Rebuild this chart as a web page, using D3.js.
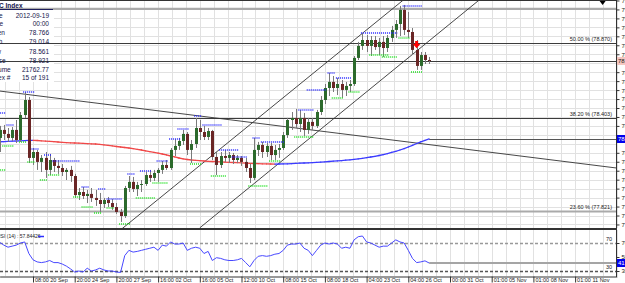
<!DOCTYPE html>
<html>
<head>
<meta charset="utf-8">
<script src="https://cdn.jsdelivr.net/npm/d3@7"></script>
<style>
body { margin: 0; background: #fff; overflow: hidden; }
svg { display: block; font-family: "Liberation Sans", Arial, sans-serif; }
</style>
</head>
<body>
<script>
// bars visible on screen, bar 0 = leftmost one
var open = [78.278,78.328,78.303,78.278,78.328,78.265,78.421,78.515,78.153,78.190,
  78.128,78.153,78.078,78.140,78.103,78.090,78.065,78.078,78.040,77.921,
  77.940,77.915,77.928,77.903,77.890,77.865,77.890,77.871,77.846,77.815,
  77.790,77.965,78.003,77.959,77.984,77.990,78.046,78.028,78.059,78.078,
  78.109,78.090,78.203,78.228,78.259,78.303,78.203,78.240,78.340,78.315,
  78.284,78.321,78.159,78.109,78.165,78.153,78.171,78.140,78.153,78.128,
  78.090,78.028,78.203,78.234,78.190,78.228,78.171,78.203,78.215,78.296,
  78.390,78.403,78.365,78.403,78.328,78.378,78.353,78.440,78.515,78.590,
  78.628,78.590,78.615,78.578,78.603,78.615,78.778,78.853,78.890,78.853,
  78.890,78.846,78.878,78.840,78.903,78.953,78.990,79.078,78.953,78.940,
  78.828,78.728,78.796,78.765];
var high = [78.353,78.359,78.340,78.346,78.390,78.440,78.565,78.534,78.215,78.203,
  78.171,78.190,78.178,78.153,78.140,78.115,78.090,78.103,78.053,77.965,
  77.971,77.953,77.965,77.953,77.934,77.903,77.909,77.896,77.871,77.834,
  77.978,78.040,78.034,78.003,78.015,78.065,78.078,78.078,78.090,78.134,
  78.140,78.215,78.271,78.278,78.328,78.315,78.265,78.403,78.390,78.353,
  78.340,78.328,78.190,78.190,78.203,78.190,78.184,78.171,78.165,78.153,
  78.115,78.278,78.253,78.253,78.246,78.246,78.234,78.240,78.315,78.403,
  78.440,78.459,78.453,78.434,78.403,78.403,78.453,78.540,78.615,78.684,
  78.665,78.653,78.640,78.628,78.640,78.790,78.878,78.934,78.921,78.915,
  78.915,78.903,78.915,78.921,78.978,79.015,79.103,79.109,79.065,78.965,
  78.890,78.815,78.815,78.784];
var low = [78.190,78.265,78.253,78.259,78.246,78.253,78.403,78.121,78.109,78.078,
  78.065,78.028,78.046,78.065,78.053,78.040,78.015,78.003,77.903,77.890,
  77.896,77.871,77.878,77.853,77.815,77.840,77.846,77.828,77.803,77.753,
  77.778,77.940,77.940,77.915,77.940,77.978,78.003,78.009,78.003,78.053,
  78.078,78.078,78.165,78.203,78.234,78.171,78.121,78.215,78.265,78.265,
  78.265,78.140,78.046,78.090,78.128,78.121,78.115,78.121,78.103,78.065,
  77.996,78.015,78.165,78.153,78.159,78.140,78.140,78.153,78.203,78.278,
  78.328,78.340,78.315,78.290,78.303,78.328,78.340,78.421,78.490,78.540,
  78.565,78.546,78.528,78.540,78.565,78.603,78.765,78.828,78.815,78.790,
  78.828,78.796,78.784,78.815,78.878,78.903,78.915,78.921,78.903,78.796,
  78.703,78.703,78.740,78.740];
var close = [78.328,78.303,78.278,78.328,78.265,78.421,78.515,78.153,78.190,78.128,
  78.153,78.078,78.140,78.103,78.090,78.065,78.078,78.040,77.921,77.940,
  77.915,77.928,77.903,77.890,77.865,77.890,77.871,77.846,77.815,77.790,
  77.965,78.003,77.959,77.984,77.990,78.046,78.028,78.059,78.078,78.109,
  78.090,78.203,78.228,78.259,78.303,78.203,78.240,78.340,78.315,78.284,
  78.321,78.159,78.109,78.165,78.153,78.171,78.140,78.153,78.128,78.090,
  78.028,78.203,78.234,78.190,78.228,78.171,78.203,78.215,78.296,78.390,
  78.403,78.365,78.403,78.328,78.378,78.353,78.440,78.515,78.590,78.628,
  78.590,78.615,78.578,78.603,78.615,78.778,78.853,78.890,78.853,78.890,
  78.846,78.878,78.840,78.903,78.953,78.990,79.078,78.953,78.940,78.828,
  78.728,78.796,78.765,78.759];
var ma = [78.2538,78.2550,78.2563,78.2575,78.2588,78.2600,78.2613,78.2625,78.2631,78.2619,
  78.2600,78.2581,78.2563,78.2544,78.2525,78.2506,78.2488,78.2475,78.2463,78.2450,
  78.2438,78.2425,78.2413,78.2400,78.2381,78.2350,78.2319,78.2281,78.2244,78.2213,
  78.2181,78.2150,78.2113,78.2069,78.2025,78.1975,78.1925,78.1875,78.1825,78.1775,
  78.1713,78.1650,78.1588,78.1525,78.1475,78.1431,78.1400,78.1375,78.1356,78.1338,
  78.1319,78.1306,78.1294,78.1281,78.1269,78.1256,78.1244,78.1231,78.1219,78.1206,
  78.1194,78.1181,78.1169,78.1163,78.1156,78.1150,78.1144,78.1150,78.1156,78.1163,
  78.1175,78.1188,78.1200,78.1213,78.1225,78.1238,78.1250,78.1269,78.1288,78.1306,
  78.1325,78.1344,78.1363,78.1388,78.1413,78.1444,78.1475,78.1506,78.1544,78.1588,
  78.1631,78.1681,78.1738,78.1800,78.1869,78.1944,78.2025,78.2113,78.2213,78.2319,
  78.2431,78.2538,78.2631,78.2713];
var rsi = [71,67,64,65.5,67,70,71.5,55,46,43,
  42,43,45,42,42,40,37,33,28.5,30,
  28.5,34,30,31.5,34,31.5,30,30,28.5,28,
  52,59.5,57,58,59.5,61,62.5,64,59.5,67,
  65.5,71.5,68.5,68.5,70,59.5,62.5,64,62.5,55,
  58,45,49,48,46,45,45,46,48,42,
  36,45,51,52,51,52,54,55,59.5,67,
  68.5,68.5,70,62.5,59.5,52,59.5,67,70,68.5,
  70,68.5,62.5,64,62.5,74.5,79,80,71.5,70,
  67,64,65.5,65.5,70,74.5,71.5,70,59.5,48,
  42,43,44.5,41.4];

var timeIdx = [8,18,28,38,48,58,68,78,88,98,108,118,128,138];
var timeLabels = ['08:00 20 Sep','20:00 24 Sep','20:00 27 Sep','16:00 02 Oct','16:00 05 Oct',
  '12:00 10 Oct','08:00 15 Oct','08:00 18 Oct','04:00 23 Oct','04:00 26 Oct',
  '00:00 31 Oct','01:00 05 Nov','01:00 08 Nov','01:00 11 Nov'];
var priceTicks = [79.137,79.081,79.025,78.969,78.913,78.857,78.801,78.745,78.689,78.633,
  78.577,78.521,78.465,78.409,78.353,78.297,78.241,78.185,78.129,78.073,
  78.017,77.961,77.905,77.849,77.793,77.737];
var rsiTicks = [70,50,30];
var rsiLevels = [70,30];

var fibPct = [50.0, 38.2, 23.6];
var fibPrice = [78.870, 78.403, 77.821];
var topLinePrice = 79.084;
var bidPrice = 78.759;
// [bar, price, bar, price], drawn as rays
var trendLines = [[0,78.571,147,78.093],[29,77.703,97,79.144],[48,77.716,115,79.140]];
// fractal levels [fromBar, toBar, price]
var resLevels = [[0,1,78.434],[2,3,78.359],[6,8,78.565],[8,9,78.209],[11,12,78.171],[13,19,78.134],
  [20,21,77.971],[24,25,77.959],[26,29,77.896],[31,32,78.053],[34,36,78.071],[38,40,78.134],
  [41,43,78.271],[43,45,78.334],[47,48,78.415],[49,53,78.359],[53,57,78.203],[56,59,78.159],
  [61,62,78.278],[63,68,78.253],[72,75,78.453],[74,78,78.578],[79,80,78.684],[81,84,78.653],
  [87,95,78.934],[97,101,79.103]];
var supLevels = [[0,1,78.078],[1,3,78.228],[5,6,78.253],[7,8,78.128],[10,11,78.015],[12,14,78.046],
  [18,19,77.909],[20,22,77.846],[23,24,77.809],[26,27,77.840],[29,31,77.740],[33,37,77.903],
  [37,40,77.996],[46,48,78.115],[51,54,78.040],[60,64,77.978],[65,67,78.134],[71,75,78.284],
  [80,82,78.528],[84,86,78.565],[89,93,78.796],[92,95,78.784],[96,98,78.903],[99,101,78.690]];
var signalBar = 100, signalPrice = 78.859;
var infoLabels = ['Date','Time','Open','High','Low','Close','Volume','Index #'];
var infoValues = ['2012-09-19','00:00','78.766','79.014','78.561','78.921','21762.77','15 of 191'];
var rsiTitle = 'RSI (14) : 57.84426';

var W = 625, H = 283, plotR = 616;
var svg = d3.select('body').append('svg').attr('width', W).attr('height', H);

var x = d3.scaleLinear().domain([0, 148]).range([-0.36, -0.36 + 4.17 * 148]);
var y = d3.scaleLinear().domain([77.715, 79.14]).range([228, 0]);
var ry = d3.scaleLinear().domain([30, 70]).range([271, 243]);
var px = function(v) { return Math.round(v) + 0.5; };

var defs = svg.append('defs');
defs.append('clipPath').attr('id', 'clipMain').append('rect')
  .attr('x', 0).attr('y', 0).attr('width', plotR).attr('height', 228.5);
defs.append('clipPath').attr('id', 'clipRsi').append('rect')
  .attr('x', 0).attr('y', 230).attr('width', plotR).attr('height', 46);

// grid
var gridIdx = d3.range(8 - 20 / 3, 149, 10 / 3);
var grid = svg.append('g').attr('stroke', '#e1e1e1').attr('stroke-width', 1);
grid.selectAll('line.gv').data(gridIdx).enter().append('line')
  .attr('x1', function(d) { return px(x(d)); }).attr('x2', function(d) { return px(x(d)); })
  .attr('y1', 0).attr('y2', 228);
grid.selectAll('line.gr').data(gridIdx).enter().append('line')
  .attr('x1', function(d) { return px(x(d)); }).attr('x2', function(d) { return px(x(d)); })
  .attr('y1', 230).attr('y2', 276);
grid.selectAll('line.gh').data(priceTicks).enter().append('line')
  .attr('x1', 0).attr('x2', plotR)
  .attr('y1', function(d) { return px(y(d)); }).attr('y2', function(d) { return px(y(d)); });

// info panel background
svg.append('rect').attr('x', 0).attr('y', 0).attr('width', 54).attr('height', 82).attr('fill', '#fff');

var main = svg.append('g').attr('clip-path', 'url(#clipMain)');

// horizontal levels
main.append('line').attr('x1', 0).attr('x2', plotR)
  .attr('y1', y(topLinePrice)).attr('y2', y(topLinePrice))
  .attr('stroke', '#aaa').attr('stroke-width', 2.2);
main.selectAll('line.fib').data(fibPrice).enter().append('line')
  .attr('x1', 0).attr('x2', plotR)
  .attr('y1', function(d) { return px(y(d)); }).attr('y2', function(d) { return px(y(d)); })
  .attr('stroke', function(d, i) { return fibPct[i] < 30 ? '#aaa' : '#3c3c3c'; })
  .attr('stroke-width', function(d, i) { return fibPct[i] < 30 ? 2.2 : 1.2; });
main.selectAll('text.fib').data(fibPrice).enter().append('text')
  .attr('x', 612).attr('y', function(d) { return y(d) - 2; })
  .attr('text-anchor', 'end').attr('font-size', 5.5).attr('fill', '#222')
  .text(function(d, i) { return fibPct[i].toFixed(2) + ' % (' + d.toFixed(3) + ')'; });
main.append('line').attr('x1', 0).attr('x2', plotR)
  .attr('y1', px(y(bidPrice))).attr('y2', px(y(bidPrice)))
  .attr('stroke', '#3c3c3c').attr('stroke-width', 1.1);
main.append('line').attr('x1', x(ma.length - 1)).attr('x2', plotR)
  .attr('y1', px(y(ma[ma.length - 1]))).attr('y2', px(y(ma[ma.length - 1])))
  .attr('stroke', '#555').attr('stroke-width', 1);

// trend lines
main.selectAll('line.trend').data(trendLines).enter().append('line')
  .attr('x1', function(d) { return x(d[0]); })
  .attr('y1', function(d) { return y(d[1]); })
  .attr('x2', function(d) { return x(150); })
  .attr('y2', function(d) { return y(d[1] + (d[3] - d[1]) * (150 - d[0]) / (d[2] - d[0])); })
  .attr('stroke', '#333').attr('stroke-width', 0.9);

// moving average, blue when rising, red when falling
main.selectAll('line.ma').data(d3.range(1, ma.length)).enter().append('line')
  .attr('x1', function(i) { return x(i - 1); }).attr('y1', function(i) { return y(ma[i - 1]); })
  .attr('x2', function(i) { return x(i); }).attr('y2', function(i) { return y(ma[i]); })
  .attr('stroke', function(i) { return ma[i] >= ma[i - 1] ? '#3b3bff' : '#f04848'; })
  .attr('stroke-width', 1.3).attr('stroke-linecap', 'round');

// candles
var bars = close.map(function(c, i) { return {i: i, o: open[i], h: high[i], l: low[i], c: c}; });
main.selectAll('line.wick').data(bars).enter().append('line')
  .attr('x1', function(d) { return px(x(d.i)); }).attr('x2', function(d) { return px(x(d.i)); })
  .attr('y1', function(d) { return y(d.h); }).attr('y2', function(d) { return y(d.l); })
  .attr('stroke', '#7a7a7a').attr('stroke-width', 1);
main.selectAll('rect.body').data(bars).enter().append('rect')
  .attr('x', function(d) { return Math.round(x(d.i)) - 1; })
  .attr('width', 3)
  .attr('y', function(d) { return y(Math.max(d.o, d.c)); })
  .attr('height', function(d) { return Math.max(1, Math.abs(y(d.o) - y(d.c))); })
  .attr('fill', function(d) { return d.c >= d.o ? '#2c6a2c' : '#6a2626'; });

// fractal dots
main.selectAll('line.res').data(resLevels).enter().append('line')
  .attr('x1', function(d) { return x(d[0]) - 1.5; }).attr('x2', function(d) { return x(d[1]) + 1.5; })
  .attr('y1', function(d) { return y(d[2]); }).attr('y2', function(d) { return y(d[2]); })
  .attr('stroke', '#2828ff').attr('stroke-width', 1.5).attr('stroke-dasharray', '1,1');
main.selectAll('line.sup').data(supLevels).enter().append('line')
  .attr('x1', function(d) { return x(d[0]) - 1.5; }).attr('x2', function(d) { return x(d[1]) + 1.5; })
  .attr('y1', function(d) { return y(d[2]); }).attr('y2', function(d) { return y(d[2]); })
  .attr('stroke', '#1ee01e').attr('stroke-width', 1.5).attr('stroke-dasharray', '1,1');

// sell arrow
main.append('path')
  .attr('transform', 'translate(' + x(signalBar) + ',' + y(signalPrice) + ')')
  .attr('d', 'M-1.5,-4h3v3h2.2l-3.7,4.2l-3.7,-4.2h2.2z').attr('fill', '#ff0000');
// chart shift marker
svg.append('path').attr('transform', 'translate(' + x(144.6) + ',1)')
  .attr('d', 'M-3,0h6l-3,4z').attr('fill', '#000');

// RSI pane
var rsiG = svg.append('g').attr('clip-path', 'url(#clipRsi)');
rsiG.selectAll('line.lvl').data(rsiLevels).enter().append('line')
  .attr('x1', 0).attr('x2', plotR)
  .attr('y1', function(d) { return px(ry(d)); }).attr('y2', function(d) { return px(ry(d)); })
  .attr('stroke', function(d) { return d > 50 ? '#999' : '#555'; })
  .attr('stroke-width', 1.3).attr('stroke-dasharray', '3,2');
rsiG.selectAll('text.lvl').data(rsiLevels).enter().append('text')
  .attr('x', 612).attr('y', function(d) { return ry(d) - 2; })
  .attr('text-anchor', 'end').attr('font-size', 5.5).attr('fill', '#222')
  .text(function(d) { return d; });
rsiG.append('line').attr('x1', x(rsi.length - 1)).attr('x2', plotR)
  .attr('y1', ry(rsi[rsi.length - 1])).attr('y2', ry(rsi[rsi.length - 1]))
  .attr('stroke', '#a5a5a5').attr('stroke-width', 1.8);
rsiG.append('path').datum(rsi)
  .attr('d', d3.line().x(function(d, i) { return x(i); }).y(function(d) { return ry(d); }))
  .attr('fill', 'none').attr('stroke', '#4848ff').attr('stroke-width', 1);
svg.append('text').attr('x', -3).attr('y', 238).attr('font-size', 5).attr('fill', '#222')
  .text(rsiTitle);
svg.append('line').attr('x1', 38).attr('x2', 44).attr('y1', 236.5).attr('y2', 236.5)
  .attr('stroke', '#3030ff').attr('stroke-width', 1.5);

// borders
var border = svg.append('g').attr('stroke', '#333').attr('stroke-width', 1);
border.append('line').attr('x1', 0).attr('x2', plotR).attr('y1', 0.5).attr('y2', 0.5);
border.append('line').attr('x1', 0).attr('x2', plotR).attr('y1', 228.5).attr('y2', 228.5);
border.append('line').attr('x1', 0).attr('x2', plotR).attr('y1', 229.5).attr('y2', 229.5);
border.append('line').attr('x1', plotR + 0.5).attr('x2', plotR + 0.5).attr('y1', 0).attr('y2', 277);

// right axes, leave room for the price boxes
var boxPrices = [bidPrice, ma[ma.length - 1]];
var freeTicks = priceTicks.filter(function(t) {
  return boxPrices.every(function(b) { return Math.abs(y(t) - y(b)) > 6; });
});
var yAxis = svg.append('g').attr('transform', 'translate(' + (plotR + 0.5) + ',0)')
  .call(d3.axisRight(y).tickValues(freeTicks).tickSize(3).tickSizeOuter(0).tickFormat(d3.format('.3f')));
var rAxis = svg.append('g').attr('transform', 'translate(' + (plotR + 0.5) + ',0)')
  .call(d3.axisRight(ry).tickValues(rsiTicks).tickSize(3).tickSizeOuter(0));
[yAxis, rAxis].forEach(function(g) {
  g.select('.domain').remove();
  g.selectAll('text').attr('font-size', 6).attr('fill', '#222').attr('x', 5);
  g.selectAll('line').attr('stroke', '#333');
});

// axis price boxes
function priceBox(yy, txt, bg, fg) {
  svg.append('rect').attr('x', plotR + 1).attr('y', yy - 4).attr('width', 10).attr('height', 8).attr('fill', bg);
  svg.append('text').attr('x', plotR + 2).attr('y', yy + 2.2).attr('font-size', 6).attr('fill', fg).text(txt);
}
priceBox(y(bidPrice), bidPrice.toFixed(3), '#f4c6c0', '#222');
priceBox(y(ma[ma.length - 1]), ma[ma.length - 1].toFixed(3), '#0000ee', '#fff');
priceBox(ry(rsi[rsi.length - 1]), rsi[rsi.length - 1].toFixed(2), '#0000ee', '#fff');

// time axis
var xAxis = svg.append('g').attr('transform', 'translate(0,276.5)')
  .call(d3.axisBottom(x).tickValues(timeIdx).tickSize(6).tickSizeOuter(0)
    .tickFormat(function(d, i) { return timeLabels[i]; }));
xAxis.select('.domain').attr('stroke', '#333');
xAxis.selectAll('line').attr('stroke', '#333');
xAxis.selectAll('text').attr('text-anchor', 'start').attr('x', 1.5).attr('y', 1.5)
  .attr('font-size', 5.5).attr('fill', '#222');

// info panel
var infoG = svg.append('g').attr('font-size', 6.5).attr('fill', '#14144a');
infoG.append('text').attr('x', -10).attr('y', 7.5).attr('font-weight', 'bold').text('DXC Index');
infoG.append('line').attr('x1', 0).attr('x2', 53).attr('y1', 9.5).attr('y2', 9.5)
  .attr('stroke', '#1e1e5a').attr('stroke-width', 1.2);
var rowY = [17.5, 26.3, 35, 44, 54, 62.5, 71.5, 80];
infoG.selectAll('text.lab').data(infoLabels).enter().append('text')
  .attr('x', -11).attr('y', function(d, i) { return rowY[i]; }).text(function(d) { return d; });
infoG.selectAll('text.val').data(infoValues).enter().append('text')
  .attr('x', 49).attr('y', function(d, i) { return rowY[i]; }).attr('text-anchor', 'end')
  .text(function(d) { return d; });
</script>
</body>
</html>
